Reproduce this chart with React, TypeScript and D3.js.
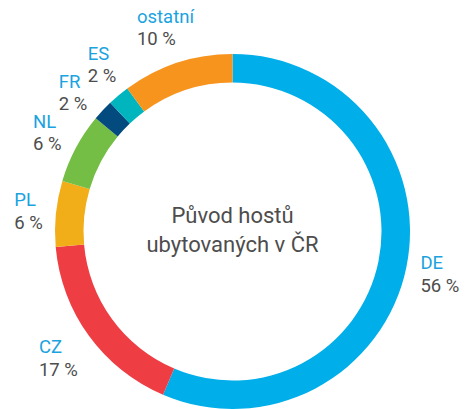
import React, { useEffect, useRef } from "react";
import * as d3 from "d3";

const names = ["DE", "CZ", "PL", "NL", "FR", "ES", "ostatní"];
const values = [56.4, 17.2, 6.0, 6.4, 1.9, 2.0, 10.1];
const percentLabels = ["56 %", "17 %", "6 %", "6 %", "2 %", "2 %", "10 %"];
const colors = ["#00AEEA", "#EE3E43", "#F1AE18", "#74BE45", "#034A7E", "#00B5BE", "#F7941E"];
const titleLines = ["Původ hostů", "ubytovaných v ČR"];

const W = 466;
const H = 409;

export default function App() {
  const ref = useRef<SVGSVGElement | null>(null);

  useEffect(() => {
    const svg = d3.select(ref.current);
    svg.selectAll("*").remove();
    const cx = 232.5;
    const cy = 231.5;
    const outerR = 177.5;
    const innerR = 149;
    const font = "Roboto, 'Noto Sans', sans-serif";

    const g = svg.append("g").attr("transform", `translate(${cx},${cy})`);
    const pie = d3.pie<number>().sort(null).value((d) => d);
    const arcs = pie(values);
    const arc = d3.arc<d3.PieArcDatum<number>>().innerRadius(innerR).outerRadius(outerR);
    g.selectAll("path.seg")
      .data(arcs)
      .join("path")
      .attr("class", "seg")
      .attr("d", arc)
      .attr("fill", (_d, i) => colors[i]);

    // label angles with simple relaxation
    const mids = arcs.map((a) => (a.startAngle + a.endAngle) / 2);
    const minGap = (10.9 * Math.PI) / 180;
    for (let it = 0; it < 20; it++) {
      for (let i = 1; i < mids.length; i++) {
        const gap = mids[i] - mids[i - 1];
        if (gap < minGap) {
          const d = (minGap - gap) / 2;
          mids[i - 1] -= d;
          mids[i] += d;
        }
      }
    }

    const labelR = 189;
    const capH = 13;
    const lineGap = 22.5;
    const blockH = capH + lineGap;
    names.forEach((name, i) => {
      const lg = g.append("g");
      const t1 = lg
        .append("text")
        .attr("font-family", font)
        .attr("font-size", 18.5)
        .attr("fill", "#1AA3DF")
        .text(name);
      const t2 = lg
        .append("text")
        .attr("font-family", font)
        .attr("font-size", 18.5)
        .attr("fill", "#4D4D4D")
        .text(percentLabels[i]);
      const w = Math.max(
        (t1.node() as SVGTextElement).getComputedTextLength(),
        (t2.node() as SVGTextElement).getComputedTextLength()
      );
      const a = mids[i];
      const s = Math.sin(a);
      const c = Math.cos(a);
      const ext = Math.abs(s) * (w / 2) + Math.abs(c) * (blockH / 2);
      const px = s * (labelR + ext);
      const py = -c * (labelR + ext);
      const x0 = px - w / 2;
      const yBase = py - blockH / 2 + capH;
      t1.attr("x", x0).attr("y", yBase);
      t2.attr("x", x0).attr("y", yBase + lineGap);
    });

    g.selectAll("text.title")
      .data(titleLines)
      .join("text")
      .attr("class", "title")
      .attr("font-family", font)
      .attr("font-size", 22)
      .attr("fill", "#4D4D4D")
      .attr("text-anchor", "middle")
      .attr("x", 0)
      .attr("y", (_d, i) => -8.2 + i * 28.5)
      .text((d) => d);
  }, []);

  return (
    <svg
      ref={ref}
      width={W}
      height={H}
      style={{ position: "absolute", left: 0, top: 0, background: "#fff" }}
    />
  );
}
